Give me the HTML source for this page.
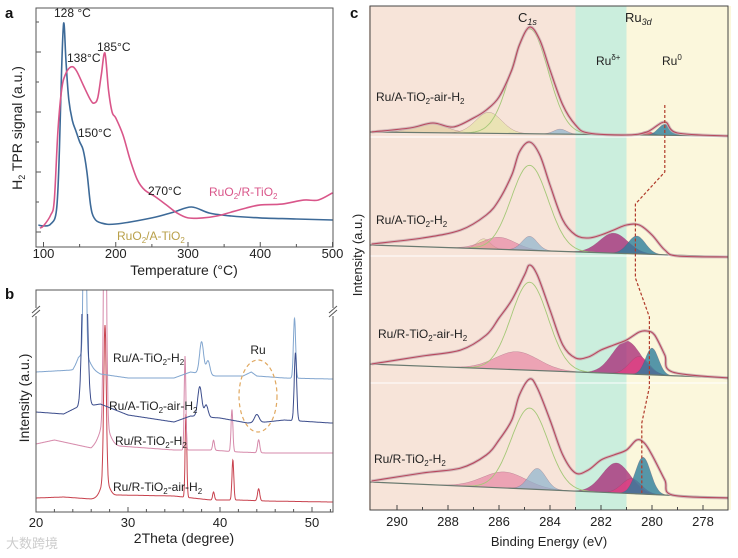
<!DOCTYPE html>
<html><head><meta charset="utf-8">
<style>
html,body{margin:0;padding:0;background:#fff;}
svg{display:block;font-family:"Liberation Sans","Noto Sans CJK SC",sans-serif;}
</style></head>
<body>
<svg id="fig" width="738" height="558" viewBox="0 0 738 558" xmlns="http://www.w3.org/2000/svg">
<defs>
<clipPath id="clipA"><rect x="36" y="8" width="297" height="239"/></clipPath>
<clipPath id="clipB"><rect x="36" y="290" width="297" height="222"/></clipPath>
<clipPath id="clipB2"><rect x="36" y="314" width="297" height="198"/></clipPath>
<clipPath id="clipC"><rect x="370" y="6" width="358" height="504"/></clipPath>
</defs>
<g id="panelA"></g>
<g id="panelB"></g>
<g id="panelC"></g>
<text x="6" y="548" font-size="13" fill="#ccc">大数跨境</text>
</svg>
<script>
// ---------- Panel A data ----------
const aTicksX = [100,200,300,400,500];
const aBlueT = [93,100,110,118,122,125,128,131,135,140,145,150,155,160,165,170,180,200,250,280,305,330,360,400,450,500];
const aBlueV = [3.3,2.9,3.8,10.5,39,77,99.5,82,63,53,48,43,39,29,13,6.7,4.3,3.8,6.7,9.5,11.9,9,7.6,6.7,6.2,5.7];
const aPinkT = [95,100,110,115,120,125,130,138,145,155,165,170,175,180,185,190,195,200,210,220,230,240,255,270,285,300,320,340,360,380,400,430,460,480,500];
const aPinkV = [1.9,2.9,8.1,15.2,48.6,67.6,74.8,78.6,77.1,70,62.9,61.4,63.8,74.8,85.2,67.6,57.1,54.3,46.2,34.3,24.8,20,16.7,12.9,9,6.7,6.7,7.6,9.5,11.4,12.9,13.3,15.2,15.2,18.6];

// ---------- Panel B data ----------
const bTicksX = [20,30,40,50];
const bLightBaseT = [20,24,24.6,27,30,35,36.8,39.5,42.5,43.4,44,47,52];
const bLightBaseV = [70,71,75,69,67,67,70,68,68,70,68,67,66.5];
const bLightPeaks = [[25.3,130,0.13],[25.3,6,0.5],[38.0,16,0.22],[38.7,7,0.2],[48.1,30,0.12]];
const bDarkBaseT = [20,23,24.3,27,30,35,36.8,40,43,45,47,52];
const bDarkBaseV = [50,49,52,54,48.5,45,48,47,44.5,45,46,44.5];
const bDarkPeaks = [[25.3,100,0.25],[37.8,15,0.22],[38.5,6,0.2],[44.0,4,0.25],[48.2,34,0.13]];
const bPinkBaseT = [20,22,24,26,27,29,35,39,42,45,52];
const bPinkBaseV = [34,36,34,32,36,33,31,31,30,29.5,29.5];
const bPinkPeaks = [[27.5,140,0.15],[27.5,8,0.5],[36.2,47,0.09],[39.3,5,0.1],[41.3,21,0.1],[44.2,6.5,0.12]];
const bRedBaseT = [20,23,26,29,35,39,42,45,52];
const bRedBaseV = [7,7.5,6.5,8.5,8,6,6,5.5,5];
const bRedPeaks = [[27.5,78,0.14],[27.5,8,0.45],[36.3,42,0.09],[39.3,4,0.1],[41.4,20,0.1],[44.2,6,0.12]];

// ---------- Panel C data ----------
const cTicksX = [290,288,286,284,282,280,278];
const cRegions = [291.1,283,281,276.9];
const cEnvE = [291,289.5,288.6,287.8,287,286.5,286,285.5,285.2,284.8,284.4,284,283.5,283,282.5,281,280.2,279.5,279,277];
const cS1V = [378,382,387,383,392,400,413,440,465,483,470,440,405,385,377,375,378,388,377,374];
const cEnvE2 = [291,289,287.5,286.5,286,285.5,285.2,284.8,284.4,284,283.5,283,282.5,282,281.5,281,280.5,280,279.5,279,277];
const cS2V = [266,272,280,295,310,335,358,368,355,325,290,275,272,275,280,285,285,275,260,254,253];
const cEnvE3 = [291,289,287.5,286.5,286,285.5,285,284.8,284.5,284,283.5,283,282.5,282,281.5,281,280.5,280.2,279.9,279.5,279.2,277];
const cS3V = [146,154,160,175,192,210,235,245,235,200,165,152,153,160,165,170,178,179,175,155,138,132];
const cEnvE4 = [291,289,287.5,286.5,286,285.5,285.2,284.8,284.5,284,283.5,283,282.5,282,281.5,281,280.6,280.3,280,279.5,279.2,277];
const cS4V = [29,37,42,55,70,90,115,131,122,90,55,37,40,50,55,60,70,67,55,30,15,12];
const cBase1 = [378,374], cBase2 = [265,253], cBase3 = [146,132], cBase4 = [28,12];
const cComp1 = [[288.7,9,1.5,'tan'],[286.4,21,1.2,'yel'],[283.6,5,0.6,'lb'],[280.2,4,0.5,'red'],[279.5,11,0.6,'teal']];
const cComp2 = [[286.6,10,0.6,'yel'],[286,12,1.5,'pink'],[284.8,14,0.7,'lb'],[281.5,20,1.3,'mag'],[280.6,18,0.8,'teal']];
const cComp3 = [[285.3,18,2.0,'pink'],[281,33,1.3,'mag'],[280.5,18,0.9,'pink2'],[280,27,0.6,'teal']];
const cComp4 = [[285.8,16,2.0,'pink'],[284.5,21,0.8,'lb'],[281.4,30,1.3,'mag'],[280.8,15,0.9,'pink2'],[280.35,37,0.7,'teal']];
const cGreen = [[284.8,105,1.7],[284.8,85,1.7],[284.8,88,1.7],[284.8,81,1.7]];
const cDashE = [279.5,279.5,280.65,280.65,280.1,280.1,280.4,280.4];
const cDashV = [405,338,306,232,193,123,87,17];

const NS='http://www.w3.org/2000/svg';
function mk(parent,tag,attrs,txt){const e=document.createElementNS(NS,tag);for(const k in attrs)e.setAttribute(k,attrs[k]);if(txt!==undefined)e.textContent=txt;parent.appendChild(e);return e;}
function smooth(pts){let d='M'+pts[0][0].toFixed(1)+','+pts[0][1].toFixed(1);
 for(let i=0;i<pts.length-1;i++){const p0=pts[i-1]||pts[i],p1=pts[i],p2=pts[i+1],p3=pts[i+2]||p2;
  const c1=[p1[0]+(p2[0]-p0[0])/6,p1[1]+(p2[1]-p0[1])/6],c2=[p2[0]-(p3[0]-p1[0])/6,p2[1]-(p3[1]-p1[1])/6];
  d+=' C'+c1[0].toFixed(1)+','+c1[1].toFixed(1)+' '+c2[0].toFixed(1)+','+c2[1].toFixed(1)+' '+p2[0].toFixed(1)+','+p2[1].toFixed(1);}
 return d;}
function interp(xs,ys,x){if(x<=xs[0])return ys[0];for(let i=0;i<xs.length-1;i++){if(x<=xs[i+1]){const t=(x-xs[i])/(xs[i+1]-xs[i]);return ys[i]+t*(ys[i+1]-ys[i]);}}return ys[ys.length-1];}

// ================= PANEL A =================
const A=document.getElementById('panelA');
const xa=t=>43.5+(t-100)*0.7225;
const ya=v=>232-v*2.1;
let g=mk(A,'g',{'clip-path':'url(#clipA)'});
let p=mk(g,'path',{d:smooth(aBlueT.map((t,i)=>[xa(t),ya(aBlueV[i])])),fill:'none',stroke:'#3d6a98','stroke-width':1.6});


p=mk(g,'path',{d:smooth(aPinkT.map((t,i)=>[xa(t),ya(aPinkV[i])])),fill:'none',stroke:'#d9568a','stroke-width':1.6});


mk(A,'rect',{x:36,y:8,width:297,height:239,fill:'none',stroke:'#555','stroke-width':1,});
aTicksX.forEach(t=>{const x=xa(t);mk(A,'line',{x1:x,y1:247,x2:x,y2:242,stroke:'#555'});
 const l=mk(A,'text',{x:x,y:258,'font-size':13,'text-anchor':'middle',fill:'#222'},String(t));
 
 
 if(t<500)mk(A,'line',{x1:xa(t+50),y1:247,x2:xa(t+50),y2:244,stroke:'#555'});});
[22,52,82,112,142,172,202,232].forEach((y,i)=>mk(A,'line',{x1:36,y1:y,x2:i%2?41:39,y2:y,stroke:'#555'}));
mk(A,'text',{x:5,y:18,'font-size':15,'font-weight':'bold',fill:'#111',},'a');
mk(A,'text',{x:184,y:275,'font-size':14,'text-anchor':'middle',fill:'#222',},'Temperature (°C)');
let yt=mk(A,'text',{x:0,y:0,'font-size':14,'text-anchor':'middle',fill:'#222',transform:'translate(22,128) rotate(-90)',});
yt.innerHTML='H<tspan font-size="9" dy="3">2</tspan><tspan dy="-3"> TPR signal (a.u.)</tspan>';
[['128 °C',54,17],['185°C',97,51],['138°C',67,62],['150°C',78,137],['270°C',148,195]].forEach(a=>{
 const t=mk(A,'text',{x:a[1],y:a[2],'font-size':12,fill:'#222'},a[0]);
 
 });
let lg=mk(A,'text',{x:209,y:196,'font-size':12,fill:'#d9568a',});
lg.innerHTML='RuO<tspan font-size="8" dy="3">2</tspan><tspan dy="-3">/R-TiO</tspan><tspan font-size="8" dy="3">2</tspan>';
lg=mk(A,'text',{x:117,y:240,'font-size':12,fill:'#b9a04a',});
lg.innerHTML='RuO<tspan font-size="8" dy="3">2</tspan><tspan dy="-3">/A-TiO</tspan><tspan font-size="8" dy="3">2</tspan>';

// ================= PANEL B =================
const B=document.getElementById('panelB');
const xb=t=>36+(t-20)*9.2;
const yb=v=>512-v*2;
function xrd(bt,bv,peaks){const pts=[];for(let t=20;t<=52.3;t+=0.03){let v=interp(bt,bv,t);peaks.forEach(pk=>{const u=(t-pk[0])/pk[2];v+=pk[1]*Math.exp(-u*u/2);});pts.push([xb(t),yb(v)]);}
 return 'M'+pts.map(q=>q[0].toFixed(1)+','+q[1].toFixed(1)).join(' L');}
g=mk(B,'g',{'clip-path':'url(#clipB)'});
const g2=mk(B,'g',{'clip-path':'url(#clipB2)'});
p=mk(g,'path',{d:xrd(bRedBaseT,bRedBaseV,bRedPeaks),fill:'none',stroke:'#c8424e','stroke-width':1});


p=mk(g,'path',{d:xrd(bPinkBaseT,bPinkBaseV,bPinkPeaks),fill:'none',stroke:'#d68aab','stroke-width':1});


p=mk(g2,'path',{d:xrd(bDarkBaseT,bDarkBaseV,bDarkPeaks),fill:'none',stroke:'#3c4d8c','stroke-width':1});


p=mk(g,'path',{d:xrd(bLightBaseT,bLightBaseV,bLightPeaks),fill:'none',stroke:'#82a6cf','stroke-width':1});


mk(B,'rect',{x:36,y:290,width:297,height:222,fill:'none',stroke:'#555',});
bTicksX.forEach(t=>{const x=xb(t);mk(B,'line',{x1:x,y1:512,x2:x,y2:507,stroke:'#555'});
 const l=mk(B,'text',{x:x,y:527,'font-size':13,'text-anchor':'middle',fill:'#222'},String(t));
 
 });
for(let t=22;t<=52;t+=2){if(t%10)mk(B,'line',{x1:xb(t),y1:512,x2:xb(t),y2:509,stroke:'#555'});}
[[32,312],[329,312]].forEach(a=>{mk(B,'rect',{x:a[0],y:a[1]-4,width:8,height:8,fill:'#fff'});
 mk(B,'line',{x1:a[0],y1:a[1]+1,x2:a[0]+8,y2:a[1]-6,stroke:'#555'});mk(B,'line',{x1:a[0],y1:a[1]+5,x2:a[0]+8,y2:a[1]-2,stroke:'#555'});});
mk(B,'text',{x:5,y:299,'font-size':15,'font-weight':'bold',fill:'#111',},'b');
mk(B,'text',{x:184,y:543,'font-size':14,'text-anchor':'middle',fill:'#222',},'2Theta (degree)');
mk(B,'text',{x:0,y:0,'font-size':14,'text-anchor':'middle',fill:'#222',transform:'translate(29,398) rotate(-90)',},'Intensity (a.u.)');
[['Ru/A-TiO','-H',113,362],['Ru/A-TiO','-air-H',109,410],['Ru/R-TiO','-H',115,445],['Ru/R-TiO','-air-H',113,491]].forEach(a=>{
 const t=mk(B,'text',{x:a[2],y:a[3],'font-size':12,fill:'#222'});
 t.innerHTML=a[0]+'<tspan font-size="8" dy="3">2</tspan><tspan dy="-3">'+a[1]+'</tspan><tspan font-size="8" dy="3">2</tspan>';
 
 });
mk(B,'text',{x:258,y:354,'font-size':12,'text-anchor':'middle',fill:'#222',},'Ru');
mk(B,'ellipse',{cx:258,cy:396,rx:19,ry:36,fill:'none',stroke:'#e0a860','stroke-width':1.2,'stroke-dasharray':'4,3',});

// ================= PANEL C =================
const C=document.getElementById('panelC');
const xc=e=>397+(290-e)*25.5;
const yc=v=>510-v;
const regCol=['#f7e4d9','#cbeedd','#fbf7dc'];
for(let i=0;i<3;i++){const r=mk(C,'rect',{x:xc(cRegions[i]),y:6,width:xc(cRegions[i+1])-xc(cRegions[i]),height:504,fill:regCol[i]});
 
 }
[137,256,383].forEach(y=>mk(C,'line',{x1:370,y1:y,x2:728,y2:y,stroke:'#fff','stroke-width':1.2,opacity:0.8}));
const compCol={tan:'rgba(222,200,150,0.6)',yel:'rgba(228,226,160,0.65)',lb:'rgba(140,180,205,0.7)',red:'rgba(225,70,90,0.8)',teal:'rgba(45,125,155,0.8)',pink:'rgba(228,110,150,0.55)',mag:'rgba(165,35,115,0.75)',pink2:'rgba(230,60,130,0.7)'};
const gc=mk(C,'g',{'clip-path':'url(#clipC)'});
function gauss(c,h,f,e){const s=f/2.3548;return h*Math.exp(-((e-c)*(e-c))/(2*s*s));}
function baseAt(b,e){return b[0]+(291-e)/14*(b[1]-b[0]);}
function spectrum(base,comps,green,envE,envV,idx){
 comps.forEach(cp=>{const lo=cp[0]-cp[2]*1.6,hi=cp[0]+cp[2]*1.6;const top=[],bot=[];
  for(let e=hi;e>=lo;e-=0.05){top.push([xc(e),yc(baseAt(base,e)+gauss(cp[0],cp[1],cp[2],e))]);bot.push([xc(e),yc(baseAt(base,e))]);}
  const d='M'+top.map(q=>q[0].toFixed(1)+','+q[1].toFixed(1)).join(' L')+' L'+bot.reverse().map(q=>q[0].toFixed(1)+','+q[1].toFixed(1)).join(' L')+'Z';
  const el=mk(gc,'path',{d:d,fill:compCol[cp[3]],stroke:'rgba(120,60,90,0.4)','stroke-width':0.5});
  
  });
 const gp=[];for(let e=287.5;e>=282;e-=0.05)gp.push([xc(e),yc(baseAt(base,e)+gauss(green[0],green[1],green[2],e))]);
 let el=mk(gc,'path',{d:'M'+gp.map(q=>q[0].toFixed(1)+','+q[1].toFixed(1)).join(' L'),fill:'none',stroke:'#a5c878','stroke-width':0.9});
 
 
 el=mk(gc,'line',{x1:xc(291.1),y1:yc(base[0]),x2:xc(276.9),y2:yc(base[1]),stroke:'#6a7a70','stroke-width':1.2});
 
 
 const pts=envE.map((e,i)=>[xc(e),yc(envV[i])]);
 el=mk(gc,'path',{d:smooth(pts),fill:'none',stroke:'#c9b0b4','stroke-width':3,opacity:0.8});
 
 
 el=mk(gc,'path',{d:smooth(pts),fill:'none',stroke:'#b8485e','stroke-width':1.1});
 
 }
spectrum(cBase1,cComp1,cGreen[0],cEnvE,cS1V,1);
spectrum(cBase2,cComp2,cGreen[1],cEnvE2,cS2V,2);
spectrum(cBase3,cComp3,cGreen[2],cEnvE3,cS3V,3);
spectrum(cBase4,cComp4,cGreen[3],cEnvE4,cS4V,4);
let dl=mk(C,'polyline',{points:cDashE.map((e,i)=>xc(e).toFixed(1)+','+yc(cDashV[i])).join(' '),fill:'none',stroke:'#b03a2a','stroke-width':1.2,'stroke-dasharray':'3,2'});


mk(C,'rect',{x:370,y:6,width:358,height:504,fill:'none',stroke:'#444',});
cTicksX.forEach(e=>{const x=xc(e);mk(C,'line',{x1:x,y1:510,x2:x,y2:505,stroke:'#444'});
 const l=mk(C,'text',{x:x,y:526,'font-size':13,'text-anchor':'middle',fill:'#222'},String(e));
 
 
 if(e>278)mk(C,'line',{x1:xc(e-1),y1:510,x2:xc(e-1),y2:507,stroke:'#444'});});
mk(C,'text',{x:350,y:18,'font-size':15,'font-weight':'bold',fill:'#111',},'c');
mk(C,'text',{x:549,y:546,'font-size':13,'text-anchor':'middle',fill:'#222',},'Binding Energy (eV)');
mk(C,'text',{x:0,y:0,'font-size':13,'text-anchor':'middle',fill:'#222',transform:'translate(362,255) rotate(-90)',},'Intensity (a.u.)');
let t=mk(C,'text',{x:518,y:22,'font-size':13,fill:'#222',});
t.innerHTML='C<tspan font-size="9" font-style="italic" dy="3">1s</tspan>';
t=mk(C,'text',{x:625,y:22,'font-size':13,fill:'#222',});
t.innerHTML='Ru<tspan font-size="9" font-style="italic" dy="3">3d</tspan>';
t=mk(C,'text',{x:596,y:65,'font-size':12,fill:'#222',});
t.innerHTML='Ru<tspan font-size="8" dy="-5">δ+</tspan>';
t=mk(C,'text',{x:662,y:65,'font-size':12,fill:'#222',});
t.innerHTML='Ru<tspan font-size="8" dy="-5">0</tspan>';
[['-air-H',376,101,'A'],['-H',376,224,'A'],['-air-H',378,338,'R'],['-H',374,463,'R']].forEach(a=>{
 const s=mk(C,'text',{x:a[1],y:a[2],'font-size':12,fill:'#222'});
 s.innerHTML='Ru/'+a[3]+'-TiO<tspan font-size="8" dy="3">2</tspan><tspan dy="-3">'+a[0]+'</tspan><tspan font-size="8" dy="3">2</tspan>';
 
 });
</script>
</body></html>
